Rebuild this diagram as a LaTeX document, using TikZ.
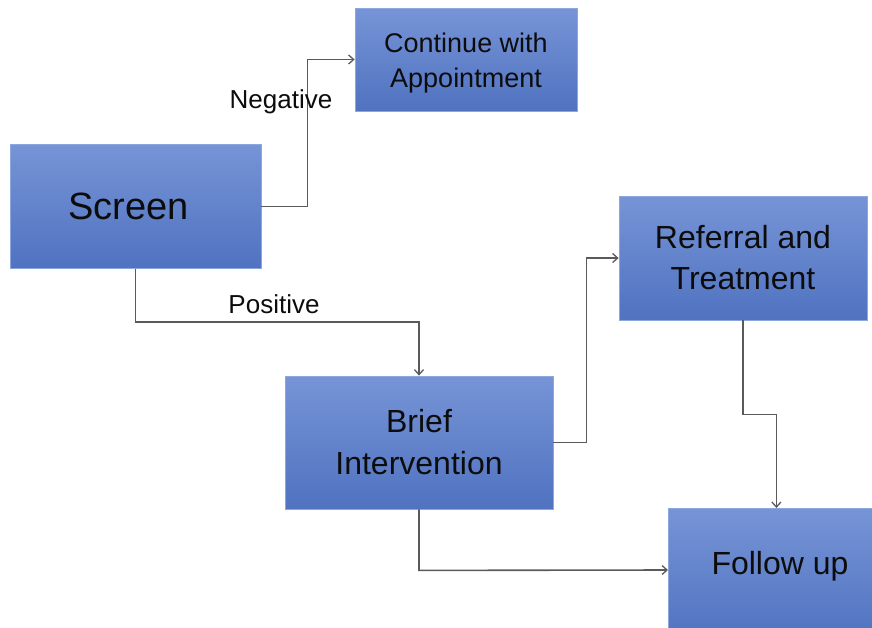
\documentclass[tikz,border=0pt]{standalone}
\usepackage{fontspec}
\setmainfont{Liberation Sans}
\usetikzlibrary{arrows.meta}
\definecolor{boxtop}{RGB}{118,148,214}
\definecolor{boxbot}{RGB}{80,114,192}
\definecolor{boxedge}{RGB}{140,166,222}
\definecolor{conncol}{RGB}{90,90,90}
\definecolor{txt}{RGB}{12,12,12}
\tikzset{
  flowbox/.style={rectangle, inner sep=0pt, top color=boxtop, bottom color=boxbot,
    draw=boxedge, line width=0.8pt, text=txt, align=center},
  conn/.style={draw=conncol, line width=1.6pt, -{Straight Barb[length=5pt,width=9pt,line width=1.3pt]}},
  lbl/.style={text=txt, font=\fontsize{26}{30}\selectfont, inner sep=0pt}
}
\begin{document}
\begin{tikzpicture}[x=1pt,y=-1pt]
\useasboundingbox (0,0) rectangle (872,627);
\clip (0,0) rectangle (872,627);
\node[flowbox, minimum width=222pt, minimum height=103pt, font=\fontsize{27}{34.5}\selectfont] (cont) at (466,59.5) {};
\node[text=txt, font=\fontsize{27}{34.5}\selectfont, align=center, inner sep=0pt] (conttext) at (466,63) {Continue with\\Appointment};
\node[flowbox, minimum width=251pt, minimum height=124pt, font=\fontsize{38}{46}\selectfont] (screen) at (135.5,206.5) {\hspace*{-14pt}Screen};
\node[flowbox, minimum width=248pt, minimum height=124pt, font=\fontsize{32}{41}\selectfont] (ref) at (743,258) {Referral and\\Treatment};
\node[flowbox, minimum width=222pt, minimum height=132pt, anchor=north west] (follow) at (668,508) {};
\node[text=txt, font=\fontsize{32}{40}\selectfont, inner sep=0pt] (followtext) at (780,566) {Follow up};
\node[flowbox, minimum width=268pt, minimum height=133pt, font=\fontsize{32}{42}\selectfont] (brief) at (419,442.5) {Brief\\Intervention};
\draw[conn] (screen.east) -- ++(46,0) |- (cont.west);
\draw[conn] (screen.south) -- ++(0,53) -| (brief.north);
\draw[conn] (brief.east) -- ++(33,0) |- (ref.west);
\draw[conn] (ref.south) -- ++(0,94) -| ([xshift=-3pt]follow.north);
\draw[conn] (brief.south) -- ++(0,61) -- (follow.west |- 0,570);
\node[lbl] (neg) at (281,102) {Negative};
\node[lbl] (pos) at (274,304) {Positive};
\end{tikzpicture}
\end{document}
